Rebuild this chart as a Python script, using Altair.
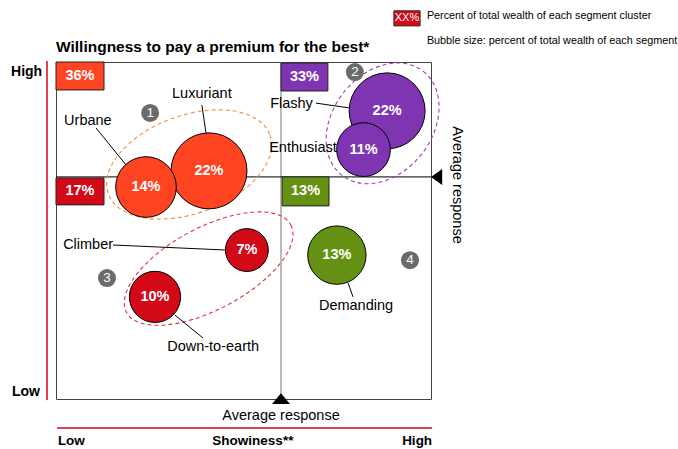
import altair as alt
import pandas as pd

FONT = "Liberation Sans"

# ---------------- data ----------------
segments = ["Luxuriant", "Urbane", "Flashy", "Enthusiast", "Climber", "Down-to-earth", "Demanding"]
seg_wealth = [22, 14, 22, 11, 7, 10, 13]
seg_show = [4.08, 2.40, 8.83, 8.20, 5.09, 2.64, 7.49]
seg_will = [6.77, 6.29, 8.55, 7.40, 4.42, 3.03, 4.27]
seg_cluster = [1, 1, 2, 2, 3, 3, 4]

clusters = [1, 2, 3, 4]
cluster_wealth = ["36%", "33%", "17%", "13%"]
cluster_colors = ["#FF4422", "#7F35B2", "#D20A18", "#659113"]
cluster_dash_colors = ["#F98A3A", "#A33BAF", "#E2303E"]

# cluster boxes (quadrant corners)
box_x = [0.0, 6.0, 0.0, 6.03]
box_x2 = [1.28, 7.25, 1.28, 7.28]
box_y = [10.0, 9.97, 6.56, 6.59]
box_y2 = [9.17, 9.14, 5.76, 5.73]

# cluster ellipse centres
ell_x = [3.55, 8.71, 4.07]
ell_y = [6.96, 8.18, 3.87]

# cluster number badges
badge_lbl = ["1", "2", "3", "4"]
badge_x = [2.51, 7.97, 1.36, 9.44]
badge_y = [8.49, 9.70, 3.59, 4.12]

# callout labels
lab_text = ["Urbane", "Luxuriant", "Flashy", "Enthusiast", "Climber", "Down-to-earth", "Demanding"]
lab_x = [0.85, 3.89, 6.85, 7.49, 0.19, 4.19, 8.00]
lab_y = [8.25, 9.05, 8.75, 7.45, 4.57, 1.54, 2.76]
lab_align = ["center", "center", "right", "right", "left", "center", "center"]

# leader lines
ld_x = [1.07, 3.89, 6.93, 1.52, 3.17, 7.79]
ld_y = [8.04, 8.72, 8.78, 4.57, 2.49, 3.44]
ld_x2 = [1.87, 4.00, 7.81, 4.53, 3.92, 7.92]
ld_y2 = [6.94, 7.89, 8.64, 4.42, 1.81, 3.03]

AVG_X = 6.0
AVG_Y = 6.59

# ---------------- helpers ----------------
xs = alt.Scale(domain=[0, 10], nice=False, zero=False)
ys = alt.Scale(domain=[0, 10], nice=False, zero=False)


def X(f):
    return alt.X(f"{f}:Q", scale=xs, axis=None)


def Y(f):
    return alt.Y(f"{f}:Q", scale=ys, axis=None)


def ellipse_path(r):
    k = 0.5523
    return (f"M 1 0 C 1 {k*r:.4f} {k:.4f} {r:.4f} 0 {r:.4f} "
            f"C {-k:.4f} {r:.4f} -1 {k*r:.4f} -1 0 "
            f"C -1 {-k*r:.4f} {-k:.4f} {-r:.4f} 0 {-r:.4f} "
            f"C {k:.4f} {-r:.4f} 1 {-k*r:.4f} 1 0 Z")


def txt(df, **kw):
    base = dict(font=FONT, fontSize=14.5, color="black", baseline="middle")
    base.update(kw)
    return alt.Chart(df).mark_text(**base)


layers = []

# divider lines
layers.append(alt.Chart(pd.DataFrame({"x": [AVG_X]})).mark_rule(color="#777777", strokeWidth=1)
              .encode(x=X("x"), y=alt.value(0), y2=alt.value(337)))
layers.append(alt.Chart(pd.DataFrame({"y": [AVG_Y]})).mark_rule(color="black", strokeWidth=1)
              .encode(y=Y("y"), x=alt.value(0), x2=alt.value(375)))

# average markers (triangles)
layers.append(alt.Chart(pd.DataFrame({"x": [AVG_X], "y": [0.0]}))
              .mark_point(shape="M 0 -0.65 L 1 0.55 L -1 0.55 Z", filled=True, color="black", opacity=1, size=324)
              .encode(x=X("x"), y=Y("y")))
layers.append(alt.Chart(pd.DataFrame({"x": [10.0], "y": [AVG_Y]}))
              .mark_point(shape="M 0 0 L 1.4 -1 L 1.4 1 Z", filled=True, color="black", opacity=1, size=256)
              .encode(x=X("x"), y=Y("y")))

# cluster ellipses (dashed)
ell_style = [(86, 49 / 86, 340), (66, 49.7 / 66, 308), (93, 41 / 93, 332)]
for i in range(3):
    a, r, ang = ell_style[i]
    layers.append(alt.Chart(pd.DataFrame({"x": [ell_x[i]], "y": [ell_y[i]]}))
                  .mark_point(shape=ellipse_path(r), filled=False, stroke=cluster_dash_colors[i],
                              strokeWidth=1.1, strokeDash=[4, 3], opacity=1, angle=ang, size=4 * a * a)
                  .encode(x=X("x"), y=Y("y")))

# bubbles (area proportional to wealth share)
seg_df = pd.DataFrame({"seg": segments, "w": seg_wealth, "x": seg_show, "y": seg_will,
                       "cluster": seg_cluster, "lbl": [f"{v}%" for v in seg_wealth]})
color_scale = alt.Scale(domain=clusters, range=cluster_colors)
layers.append(alt.Chart(seg_df).mark_circle(stroke="black", strokeWidth=1, opacity=1)
              .encode(x=X("x"), y=Y("y"),
                      size=alt.Size("w:Q", scale=alt.Scale(domain=[0, 22], range=[0, 5776], nice=False, zero=True),
                                    legend=None),
                      color=alt.Color("cluster:O", scale=color_scale, legend=None),
                      order=alt.Order("w:Q", sort="descending")))
layers.append(txt(seg_df, color="white", fontWeight="bold", fontSize=14.5)
              .encode(x=X("x"), y=Y("y"), text="lbl:N"))

# cluster boxes
box_df = pd.DataFrame({"cluster": clusters, "lbl": cluster_wealth, "x": box_x, "x2": box_x2,
                       "y": box_y, "y2": box_y2})
layers.append(alt.Chart(box_df).mark_rect(stroke="#222222", strokeWidth=1)
              .encode(x=X("x"), x2="x2", y=Y("y"), y2="y2",
                      color=alt.Color("cluster:O", scale=color_scale, legend=None)))
layers.append(txt(box_df, color="white", fontWeight="bold", fontSize=14.5)
              .transform_calculate(cx="(datum.x + datum.x2) / 2", cy="(datum.y + datum.y2) / 2")
              .encode(x=X("cx"), y=Y("cy"), text="lbl:N"))

# badges
badge_df = pd.DataFrame({"lbl": badge_lbl, "x": badge_x, "y": badge_y})
layers.append(alt.Chart(badge_df).mark_circle(size=324, color="#6B6B6B", opacity=1)
              .encode(x=X("x"), y=Y("y")))
layers.append(txt(badge_df, color="white", fontSize=13.5).encode(x=X("x"), y=Y("y"), text="lbl:N"))

# leader lines
ld_df = pd.DataFrame({"x": ld_x, "y": ld_y, "x2": ld_x2, "y2": ld_y2})
layers.append(alt.Chart(ld_df).mark_rule(color="black", strokeWidth=1)
              .encode(x=X("x"), y=Y("y"), x2="x2", y2="y2"))

# callout labels
lab_df = pd.DataFrame({"t": lab_text, "x": lab_x, "y": lab_y, "al": lab_align})
for al in ["center", "right", "left"]:
    layers.append(txt(lab_df, align=al).transform_filter(alt.datum.al == al)
                  .encode(x=X("x"), y=Y("y"), text="t:N"))

# outer axis decorations
layers.append(alt.Chart(pd.DataFrame({"x": [-0.24], "y": [10.03], "y2": [-0.03]}))
              .mark_rule(color="#D9001B", strokeWidth=1.5)
              .encode(x=X("x"), y=Y("y"), y2="y2"))
layers.append(alt.Chart(pd.DataFrame({"x": [0.03], "x2": [10.03], "y": [-0.86]}))
              .mark_rule(color="#D9001B", strokeWidth=1.5)
              .encode(x=X("x"), x2="x2", y=Y("y")))

layers.append(txt(pd.DataFrame({"t": ["High", "Low"], "x": [-0.37, -0.43], "y": [9.70, 0.21]}),
                  align="right", fontWeight="bold", fontSize=14).encode(x=X("x"), y=Y("y"), text="t:N"))
layers.append(txt(pd.DataFrame({"t": ["Willingness to pay a premium for the best*"], "x": [0.0], "y": [10.45]}),
                  align="left", fontWeight="bold", fontSize=15.5).encode(x=X("x"), y=Y("y"), text="t:N"))
layers.append(txt(pd.DataFrame({"t": ["Low"], "x": [0.05], "y": [-1.25]}), align="left", fontWeight="bold",
                  fontSize=13.5).encode(x=X("x"), y=Y("y"), text="t:N"))
layers.append(txt(pd.DataFrame({"t": ["Showiness**"], "x": [5.25], "y": [-1.25]}), align="center",
                  fontWeight="bold", fontSize=13.5).encode(x=X("x"), y=Y("y"), text="t:N"))
layers.append(txt(pd.DataFrame({"t": ["High"], "x": [10.03], "y": [-1.25]}), align="right", fontWeight="bold",
                  fontSize=13.5).encode(x=X("x"), y=Y("y"), text="t:N"))
layers.append(txt(pd.DataFrame({"t": ["Average response"], "x": [AVG_X], "y": [-0.50]}), align="center")
              .encode(x=X("x"), y=Y("y"), text="t:N"))
layers.append(txt(pd.DataFrame({"t": ["Average response"], "x": [10.69], "y": [6.35]}), align="center", angle=90)
              .encode(x=X("x"), y=Y("y"), text="t:N"))

# legend (top right)
layers.append(alt.Chart(pd.DataFrame({"x": [9.01], "x2": [9.71], "y": [11.52], "y2": [11.07]}))
              .mark_rect(color="#D20A18", stroke="#333333", strokeWidth=1)
              .encode(x=X("x"), x2="x2", y=Y("y"), y2="y2"))
layers.append(txt(pd.DataFrame({"t": ["XX%"], "x": [9.36], "y": [11.30]}), color="white", fontSize=11, align="center")
              .encode(x=X("x"), y=Y("y"), text="t:N"))
layers.append(txt(pd.DataFrame({"t": ["Percent of total wealth of each segment cluster",
                                      "Bubble size: percent of total wealth of each segment"],
                                "x": [9.89, 9.89], "y": [11.36, 10.62]}), fontSize=10.8, align="left")
              .encode(x=X("x"), y=Y("y"), text="t:N"))

chart = (alt.layer(*layers)
         .properties(width=375, height=337,
                     padding={"left": 56, "top": 62, "right": 247, "bottom": 50},
                     autosize=alt.AutoSizeParams(type="none"),
                     background="white")
         .configure_view(stroke="#444444", strokeWidth=1))

chart.save("out.html", embed_options={"renderer": "svg", "actions": False})
